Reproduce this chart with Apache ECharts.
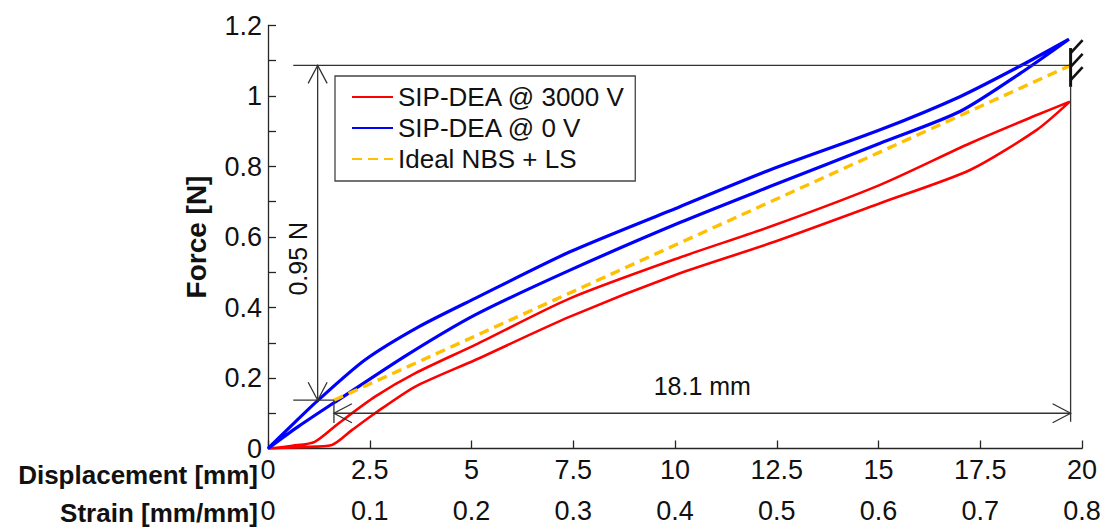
<!DOCTYPE html>
<html>
<head>
<meta charset="utf-8">
<script src="https://cdn.jsdelivr.net/npm/echarts@6/dist/echarts.min.js"></script>
<style>
  html, body { margin: 0; padding: 0; background: #ffffff; }
  #chart { width: 1106px; height: 528px; }
</style>
</head>
<body>
<div id="chart"></div>
<script>
// Force-displacement hysteresis loops of the SIP-DEA (displacement in mm, force in N).
// Each loop is stored as its upper and lower branch, both running from 0 to the end stroke.
const red3000Upper = [[0, 0], [0.6, 0.008], [1.15, 0.019], [1.73, 0.071], [2.63, 0.147], [3.61, 0.213],
  [5.09, 0.294], [7.42, 0.426], [10.12, 0.542], [12.33, 0.629], [15.04, 0.748], [17.25, 0.866],
  [18.89, 0.946], [19.7, 0.984]];
const red3000Lower = [[0, 0], [0.8, 0.004], [1.57, 0.01], [2.06, 0.052], [2.63, 0.10], [3.61, 0.175],
  [5.09, 0.251], [7.42, 0.374], [10.12, 0.497], [12.33, 0.582], [15.04, 0.696], [17.25, 0.790],
  [18.89, 0.904], [19.7, 0.984]];
const blue0Upper = [[0, 0], [0.62, 0.07], [1.24, 0.138], [2.38, 0.251], [3.7, 0.345], [5.09, 0.426],
  [7.42, 0.558], [10.12, 0.686], [12.33, 0.790], [15.04, 0.904], [17.0, 0.998], [18.48, 1.085],
  [19.68, 1.161]];
const blue0Lower = [[0, 0], [0.74, 0.062], [1.73, 0.138], [3.41, 0.265], [5.09, 0.379], [7.42, 0.506],
  [10.12, 0.641], [12.33, 0.743], [15.04, 0.866], [17.0, 0.956], [18.48, 1.064], [19.68, 1.161]];

// Ideal negative-bias-spring + linear-spring characteristic
const idealDisp = [1.62, 19.72];
const idealForce = [0.137, 1.087];

// Axis ranges and tick steps
const dispRange = [0, 20], dispStep = 2.5;
const strainRange = [0, 0.8], strainStep = 0.1;
const forceRange = [0, 1.2], forceStep = 0.2;

const seriesNames = ['SIP-DEA @ 3000 V', 'SIP-DEA @ 0 V', 'Ideal NBS + LS'];

// Dimension lines (in data units)
const dimLineStartX = 0.62;     // left end of the force reference lines
const forceArrowX = 1.22;       // x of the force dimension arrow
const dispArrowF = 0.10;        // force level of the stroke dimension arrow
const dispTickBottomF = 0.072;  // bottom of the short extension line at stroke start
const endLineBottomF = 0.076;   // bottom of the extension line at stroke end
const wallBottomF = 1.026, wallTopF = 1.136;  // end-stop wall symbol

const loop = (upper, lower) => upper.concat(lower.slice().reverse());

const FONT = '"Liberation Sans", Arial, sans-serif';
const INK = '#111';
const AXIS = '#262626';

function renderDimensions(params, api) {
  const P = (x, y) => api.coord([x, y]);
  const st = { stroke: '#333', lineWidth: 1.3, fill: null };
  const seg = (a, b, style) => ({ type: 'line', shape: { x1: a[0], y1: a[1], x2: b[0], y2: b[1] }, style: style || st });
  // open V arrow head with its tip at `tip`, pointing along (dx, dy)
  const head = (tip, dx, dy) => {
    const L = 18, W = 9.5;
    const nx = -dy, ny = dx;
    return {
      type: 'polyline',
      shape: { points: [[tip[0] - dx * L + nx * W, tip[1] - dy * L + ny * W], tip,
                        [tip[0] - dx * L - nx * W, tip[1] - dy * L - ny * W]] },
      style: st
    };
  };
  const fLow = idealForce[0], fHigh = idealForce[1];
  const dStart = idealDisp[0], dEnd = idealDisp[1];

  const topL = P(dimLineStartX, fHigh), topR = P(dEnd, fHigh);
  const lowL = P(dimLineStartX, fLow), lowR = P(dStart, fLow);
  const vA = P(forceArrowX, fLow), vB = P(forceArrowX, fHigh);
  const hA = P(dStart, dispArrowF), hB = P(dEnd, dispArrowF);
  const tickBot = P(dStart, dispTickBottomF);
  const endBot = P(dEnd, endLineBottomF);
  const wallBot = P(dEnd, wallBottomF), wallTop = P(dEnd, wallTopF);

  const children = [
    seg(topL, topR),
    seg(lowL, lowR),
    seg(vA, vB),
    head(vB, 0, -1),
    head(vA, 0, 1),
    seg(hA, hB),
    head(hA, -1, 0),
    head(hB, 1, 0),
    seg(lowR, tickBot),
    seg(endBot, wallBot),
    seg(wallBot, wallTop, { stroke: '#111', lineWidth: 3, fill: null })
  ];
  // hatching of the end-stop wall
  [5, 18.7, 32].forEach(off => {
    const y0 = wallTop[1] + off;
    children.push(seg([wallTop[0], y0], [wallTop[0] + 12, y0 - 13], { stroke: '#111', lineWidth: 2.6, fill: null }));
  });
  children.push({
    type: 'text',
    x: (hA[0] + hB[0]) / 2, y: hA[1] - 27,
    style: { text: (dEnd - dStart).toFixed(1) + ' mm', fontSize: 25, fontFamily: FONT, fill: INK,
             align: 'center', verticalAlign: 'middle' }
  });
  children.push({
    type: 'text',
    x: vA[0] - 20, y: (vA[1] + vB[1]) / 2 + 26,
    rotation: Math.PI / 2,
    style: { text: (fHigh - fLow).toFixed(2) + ' N', fontSize: 25, fontFamily: FONT, fill: INK,
             align: 'center', verticalAlign: 'middle' }
  });
  return { type: 'group', children };
}

const chart = echarts.init(document.getElementById('chart'), null, { renderer: 'svg' });

chart.setOption({
  animation: false,
  backgroundColor: '#ffffff',
  textStyle: { fontFamily: FONT },
  grid: { left: 268, right: 24, top: 25.5, bottom: 79.5, containLabel: false },
  legend: {
    data: seriesNames,
    orient: 'vertical',
    left: 335, top: 76,
    padding: [8, 10, 9, 16],
    itemGap: 5,
    itemWidth: 41, itemHeight: 14,
    selectedMode: false,
    backgroundColor: '#ffffff',
    borderColor: '#444', borderWidth: 1.3,
    itemStyle: { opacity: 0 },
    textStyle: { fontSize: 26, fontFamily: FONT, color: INK, padding: [0, 0, 0, 0] }
  },
  xAxis: [
    {
      type: 'value', min: dispRange[0], max: dispRange[1], interval: dispStep,
      position: 'bottom',
      axisLine: { show: true, onZero: false, lineStyle: { color: AXIS, width: 1.3 } },
      axisTick: { show: true, inside: true, length: 8, lineStyle: { color: AXIS, width: 1.3 } },
      axisLabel: { fontSize: 27, fontFamily: FONT, color: INK, margin: 8 },
      splitLine: { show: false }
    },
    {
      type: 'value', min: strainRange[0], max: strainRange[1], interval: strainStep,
      position: 'bottom', offset: 41,
      axisLine: { show: false }, axisTick: { show: false },
      axisLabel: { fontSize: 27, fontFamily: FONT, color: INK, margin: 8 },
      splitLine: { show: false }
    }
  ],
  yAxis: {
    type: 'value', min: forceRange[0], max: forceRange[1], interval: forceStep,
    name: 'Force [N]', nameLocation: 'middle', nameGap: 58,
    nameTextStyle: { fontSize: 28, fontWeight: 'bold', fontFamily: FONT, color: INK },
    axisLine: { show: true, lineStyle: { color: AXIS, width: 1.3 } },
    axisTick: { show: true, inside: true, length: 8, lineStyle: { color: AXIS, width: 1.3 } },
    minorTick: { show: true, splitNumber: 2, length: 8, lineStyle: { color: AXIS, width: 1.3 } },
    axisLabel: { fontSize: 27, fontFamily: FONT, color: INK, margin: 6 },
    splitLine: { show: false }
  },
  graphic: [
    { type: 'text', x: 258, y: 475,
      style: { text: 'Displacement [mm]', fontSize: 26, fontWeight: 'bold', fontFamily: FONT, fill: INK,
               align: 'right', verticalAlign: 'middle' } },
    { type: 'text', x: 258, y: 513,
      style: { text: 'Strain [mm/mm]', fontSize: 26, fontWeight: 'bold', fontFamily: FONT, fill: INK,
               align: 'right', verticalAlign: 'middle' } }
  ],
  series: [
    {
      name: seriesNames[0], type: 'line', xAxisIndex: 0, yAxisIndex: 0,
      data: loop(red3000Upper, red3000Lower),
      symbol: 'none', smooth: 0.25,
      lineStyle: { color: '#ff0000', width: 2.6 }, itemStyle: { color: '#ff0000' }, z: 3
    },
    {
      name: seriesNames[1], type: 'line', xAxisIndex: 0, yAxisIndex: 0,
      data: loop(blue0Upper, blue0Lower),
      symbol: 'none', smooth: 0.25,
      lineStyle: { color: '#0000ff', width: 3.2 }, itemStyle: { color: '#0000ff' }, z: 4
    },
    {
      name: seriesNames[2], type: 'line', xAxisIndex: 0, yAxisIndex: 0,
      data: idealDisp.map((d, i) => [d, idealForce[i]]),
      symbol: 'none',
      lineStyle: { color: '#ffc000', width: 3.4, type: [10, 6] }, itemStyle: { color: '#ffc000' }, z: 5
    },
    {
      type: 'custom', xAxisIndex: 0, yAxisIndex: 0,
      data: [[0, 0]], silent: true, z: 6,
      renderItem: renderDimensions
    }
  ]
});
</script>
</body>
</html>
